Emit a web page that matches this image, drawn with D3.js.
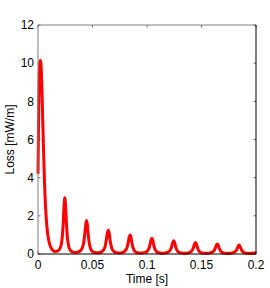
<!DOCTYPE html>
<html><head><meta charset="utf-8">
<script src="https://cdn.jsdelivr.net/npm/d3@7"></script>
<style>body{margin:0;background:#fff}svg{display:block}text{font-family:"Liberation Sans",Arial,sans-serif;fill:#000}</style>
</head><body><svg id="c" width="270" height="288"></svg>
<script>
const xTicks = [0, 0.05, 0.1, 0.15, 0.2];
const xTickLabels = ["0", "0.05", "0.1", "0.15", "0.2"];
const yTicks = [0, 2, 4, 6, 8, 10, 12];
const xLabel = "Time [s]";
const yLabel = "Loss [mW/m]";
const times = [
  0, 0.0005, 0.001, 0.0015, 0.002, 0.0026, 0.0032, 0.004, 0.005, 0.006, 0.007, 0.008, 0.009, 0.010, 0.011, 0.012, 0.013, 0.014, 0.015, 0.016, 0.018, 0.020, 0.021, 0.022, 0.023, 0.0238, 0.0246, 0.0254, 0.0262, 0.027, 0.028, 0.029, 0.030, 0.032, 0.034,
  0.036, 0.038, 0.040, 0.041, 0.042, 0.043, 0.0438, 0.0446, 0.0454, 0.0462, 0.047, 0.048, 0.049, 0.050, 0.052, 0.054,
  0.056, 0.058, 0.060, 0.061, 0.062, 0.063, 0.0638, 0.0646, 0.0654, 0.0662, 0.067, 0.068, 0.069, 0.070, 0.072, 0.074,
  0.076, 0.078, 0.080, 0.081, 0.082, 0.083, 0.0838, 0.0846, 0.0854, 0.0862, 0.087, 0.088, 0.089, 0.090, 0.092, 0.094,
  0.096, 0.098, 0.100, 0.101, 0.102, 0.103, 0.1038, 0.1046, 0.1054, 0.1062, 0.107, 0.108, 0.109, 0.110, 0.112, 0.114,
  0.116, 0.118, 0.120, 0.121, 0.122, 0.123, 0.1238, 0.1246, 0.1254, 0.1262, 0.127, 0.128, 0.129, 0.130, 0.132, 0.134,
  0.136, 0.138, 0.140, 0.141, 0.142, 0.143, 0.1438, 0.1446, 0.1454, 0.1462, 0.147, 0.148, 0.149, 0.150, 0.152, 0.154,
  0.156, 0.158, 0.160, 0.161, 0.162, 0.163, 0.1638, 0.1646, 0.1654, 0.1662, 0.167, 0.168, 0.169, 0.170, 0.172, 0.174,
  0.176, 0.178, 0.180, 0.181, 0.182, 0.183, 0.1838, 0.1846, 0.1854, 0.1862, 0.187, 0.188, 0.189, 0.190, 0.192, 0.194,
  0.196, 0.198, 0.200
];
const loss = [
  4.2, 6.8, 8.9, 9.9, 10.15, 10.05, 9.4, 7.8, 5.6, 3.7, 2.4, 1.55, 1.0, 0.68, 0.46, 0.32, 0.23, 0.17, 0.14, 0.13, 0.16, 0.27, 0.42, 0.75, 1.45, 2.4, 2.95, 2.45, 1.5, 0.85, 0.45, 0.26, 0.17, 0.1, 0.08,
  0.09, 0.13, 0.25, 0.38, 0.62, 1.1, 1.55, 1.75, 1.45, 0.95, 0.58, 0.33, 0.2, 0.13, 0.08, 0.06,
  0.07, 0.1, 0.2, 0.3, 0.5, 0.85, 1.15, 1.25, 1.05, 0.7, 0.45, 0.26, 0.16, 0.11, 0.07, 0.05,
  0.06, 0.09, 0.17, 0.25, 0.4, 0.68, 0.92, 1.0, 0.85, 0.57, 0.36, 0.21, 0.13, 0.09, 0.06, 0.05,
  0.05, 0.08, 0.14, 0.21, 0.33, 0.55, 0.75, 0.82, 0.7, 0.47, 0.3, 0.18, 0.11, 0.08, 0.05, 0.04,
  0.05, 0.07, 0.12, 0.18, 0.28, 0.47, 0.63, 0.7, 0.59, 0.4, 0.26, 0.15, 0.1, 0.07, 0.05, 0.04,
  0.04, 0.06, 0.11, 0.16, 0.25, 0.41, 0.55, 0.6, 0.51, 0.35, 0.22, 0.13, 0.09, 0.06, 0.04, 0.04,
  0.04, 0.06, 0.1, 0.14, 0.22, 0.36, 0.48, 0.52, 0.45, 0.31, 0.2, 0.12, 0.08, 0.05, 0.04, 0.03,
  0.04, 0.05, 0.09, 0.13, 0.2, 0.32, 0.43, 0.47, 0.4, 0.28, 0.18, 0.11, 0.07, 0.05, 0.04, 0.03,
  0.04, 0.05, 0.07
];

const svg = d3.select("#c");
const L = 38, R = 256, T = 25, B = 254;
const x = d3.scaleLinear().domain([0, 0.2]).range([L, R]);
const y = d3.scaleLinear().domain([0, 12]).range([B, T]);

const fs = 12;
// Ticks (inward)
const g = svg.append("g");
xTicks.forEach(v => {
  g.append("line").attr("x1", x(v)).attr("x2", x(v)).attr("y1", B).attr("y2", B - 2.5).attr("stroke", "#000").attr("stroke-width", 0.6);
  g.append("line").attr("x1", x(v)).attr("x2", x(v)).attr("y1", T).attr("y2", T + 2.5).attr("stroke", "#000").attr("stroke-width", 0.6);
});
yTicks.forEach(v => {
  g.append("line").attr("x1", L).attr("x2", L + 2.5).attr("y1", y(v)).attr("y2", y(v)).attr("stroke", "#000").attr("stroke-width", 0.6);
  g.append("line").attr("x1", R).attr("x2", R - 2.5).attr("y1", y(v)).attr("y2", y(v)).attr("stroke", "#000").attr("stroke-width", 0.6);
});

// Line
const line = d3.line().x((d, i) => x(times[i])).y(d => y(d)).curve(d3.curveMonotoneX);
svg.append("path").datum(loss).attr("d", line).attr("fill", "none").attr("stroke", "#ff0000").attr("stroke-width", 3).attr("stroke-linejoin", "round").attr("stroke-linecap", "butt");

// Box
svg.append("line").attr("x1", L).attr("x2", R).attr("y1", T).attr("y2", T).attr("stroke", "#808080").attr("stroke-width", 1);
svg.append("line").attr("x1", L).attr("x2", L).attr("y1", T).attr("y2", B).attr("stroke", "#808080").attr("stroke-width", 1);
svg.append("line").attr("x1", L).attr("x2", R).attr("y1", B).attr("y2", B).attr("stroke", "#000").attr("stroke-width", 1);
svg.append("line").attr("x1", R).attr("x2", R).attr("y1", T).attr("y2", B).attr("stroke", "#000").attr("stroke-width", 1);

// Labels
xTicks.forEach((v, i) => {
  svg.append("text").attr("x", x(v)).attr("y", B + 15).attr("text-anchor", "middle").attr("font-size", fs).text(xTickLabels[i]);
});
yTicks.forEach(v => {
  svg.append("text").attr("x", L - 4).attr("y", y(v) + 4.3).attr("text-anchor", "end").attr("font-size", fs).text(v);
});
svg.append("text").attr("x", (L + R) / 2).attr("y", 283).attr("text-anchor", "middle").attr("font-size", fs).text(xLabel);
svg.append("text").attr("transform", `translate(14,${(T + B) / 2}) rotate(-90)`).attr("text-anchor", "middle").attr("font-size", fs).text(yLabel);
</script></body></html>
